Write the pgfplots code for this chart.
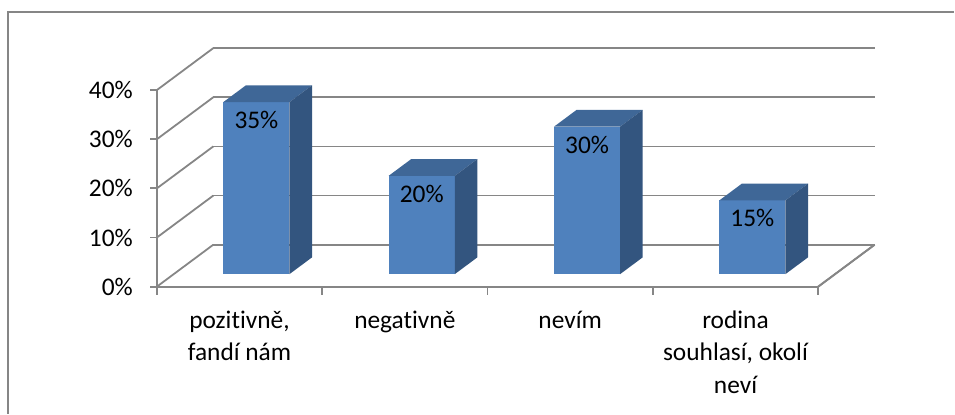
\documentclass[border=0pt]{standalone}
\usepackage{fontspec}
\setmainfont[Ligatures=NoCommon]{Carlito}
\usepackage{pgfplots}
\pgfplotsset{compat=1.18}
\usepackage{pgfplotstable}

\definecolor{barfront}{HTML}{4F81BD}
\definecolor{bartop}{HTML}{3F6797}
\definecolor{barside}{HTML}{33557F}
\definecolor{gridgray}{HTML}{868686}

% category position, share in %
\pgfplotstableread{
x v
1 35
2 20
3 30
4 15
}\bardata

\newcommand\chartfont{\fontsize{12.7}{16.3}\selectfont}

\begin{document}
\begin{tikzpicture}
\begin{axis}[
    x={(82.75pt,0pt)}, y={(28.25pt,21pt)}, z={(0pt,2.46pt)},
    xmin=0.5, xmax=4.5, ymin=0, ymax=1, zmin=0, zmax=40,
    axis lines=left,
    axis line style={gridgray, line width=0.9pt, -},
    xtick={0.5,1.5,2.5,3.5,4.5},
    x tick label as interval,
    xticklabels={{pozitivně,\\fandí nám}, negativně, nevím, {rodina\\souhlasí, okolí\\neví}},
    ytick=\empty,
    ztick={0,10,20,30,40},
    zticklabels={0\%,10\%,20\%,30\%,40\%},
    zmajorgrids,
    major grid style={gridgray, line width=0.9pt},
    major tick length=0pt,
    tick label style={font=\chartfont, black},
    xticklabel style={align=center, anchor=north, yshift=-8.5pt},
    zticklabel style={anchor=east, xshift=-8.5pt},
    clip=false,
]
\pgfplotstablegetrowsof{\bardata}
\pgfmathtruncatemacro\lastrow{\pgfplotsretval-1}
\pgfplotsforeachungrouped \r in {0,...,\lastrow}{
    \pgfplotstablegetelem{\r}{x}\of\bardata \let\bx=\pgfplotsretval
    \pgfplotstablegetelem{\r}{v}\of\bardata \let\bv=\pgfplotsretval
    \pgfmathsetmacro\xl{\bx-0.2}
    \pgfmathsetmacro\xr{\bx+0.2}
    \edef\temp{%
      \noexpand\addplot3[fill=barfront, draw=none] coordinates {(\xl,0.3,0) (\xr,0.3,0) (\xr,0.3,\bv) (\xl,0.3,\bv)} --cycle;
      \noexpand\addplot3[fill=bartop, draw=none] coordinates {(\xl,0.3,\bv) (\xr,0.3,\bv) (\xr,0.7,\bv) (\xl,0.7,\bv)} --cycle;
      \noexpand\addplot3[fill=barside, draw=none] coordinates {(\xr,0.3,0) (\xr,0.7,0) (\xr,0.7,\bv) (\xr,0.3,\bv)} --cycle;
    }\temp
}
\addplot3[draw=none, point meta=explicit,
    nodes near coords={\pgfmathprintnumber[assume math mode=true]{\pgfplotspointmeta}\%},
    nodes near coords align=center,
    every node near coord/.append style={font=\chartfont, black, yshift=-9pt}]
    table[x=x, y expr=0.3, z=v, meta=v] {\bardata};
% floor edge and tick marks as Excel draws them
\draw[gridgray, line width=0.9pt] (axis cs:4.5,0,0) -- (axis cs:4.5,1,0);
\pgfplotsinvokeforeach{0,10,20,30,40}{
    \draw[gridgray, line width=0.9pt] (axis cs:0.5,0,#1) -- ++(-3.5pt,0pt);
}
\pgfplotsinvokeforeach{0.5,1.5,2.5,3.5,4.5}{
    \draw[gridgray, line width=0.9pt] (axis cs:#1,0,0) -- ++(0pt,-4pt);
}
\coordinate (O) at (axis cs:0.5,0,0);
\end{axis}
\begin{scope}[shift={(O)}]
\draw[gridgray, line width=1pt] (-74.5pt,-63.5pt) -- (-74.5pt,137.5pt) -- (399pt,137.5pt);
\path[use as bounding box] (-78.5pt,143.5pt) rectangle (399pt,-63.5pt);
\end{scope}
\end{tikzpicture}
\end{document}
